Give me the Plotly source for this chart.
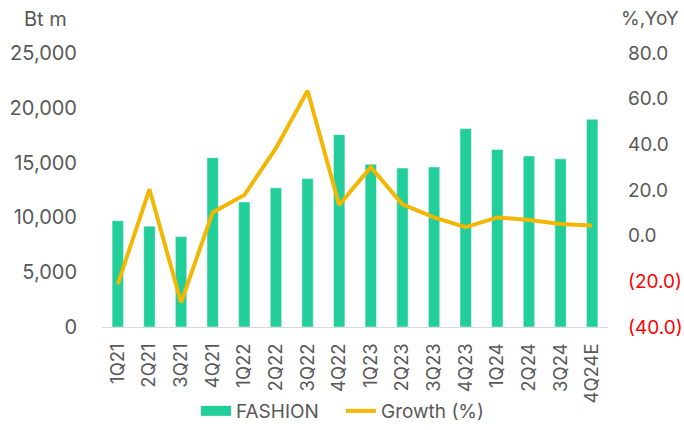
import plotly.graph_objects as go

quarters = ["1Q21", "2Q21", "3Q21", "4Q21", "1Q22", "2Q22", "3Q22", "4Q22",
            "1Q23", "2Q23", "3Q23", "4Q23", "1Q24", "2Q24", "3Q24", "4Q24E"]
fashion = [9700, 9200, 8250, 15450, 11400, 12700, 13550, 17550,
           14850, 14500, 14600, 18100, 16200, 15600, 15350, 18950]
growth = [-21.2, 20.3, -29.3, 10.2, 17.8, 38.3, 63.5, 13.4,
          30.0, 13.7, 8.0, 3.7, 8.0, 6.9, 5.1, 4.5]

left_ticks = [0, 5000, 10000, 15000, 20000, 25000]
right_ticks = [-40, -20, 0, 20, 40, 60, 80]

def fmt_right(v):
    if v < 0:
        return f"<span style='color:#FF0000'>({abs(v):.1f})</span>"
    return f"{v:.1f}"

TEXT = "#595959"
GREEN = "#22CE99"
GOLD = "#F2B705"
FONT = "Inter"

W, H = 684, 430
L, R, T, B = 102, 76, 53, 103
pw, ph = W - L - R, H - T - B
def px(xp): return (xp - L) / pw
def py(yp): return (H - B - yp) / ph

fig = go.Figure()
fig.add_trace(go.Bar(
    x=quarters, y=fashion, name="FASHION", showlegend=False,
    marker=dict(color=GREEN, line=dict(color="rgba(255,255,255,0.45)", width=1)),
    yaxis="y",
))
# legend-only entry so the swatch is a wide rectangle
fig.add_trace(go.Scatter(
    x=[None], y=[None], name="FASHION", mode="lines",
    line=dict(color=GREEN, width=12), yaxis="y", hoverinfo="skip", legend="legend",
))
fig.add_trace(go.Scatter(
    x=quarters, y=growth, name="Growth (%)", mode="lines",
    line=dict(color=GOLD, width=4), legend="legend2",
    yaxis="y2",
))

fig.update_layout(
    width=W, height=H,
    margin=dict(l=L, r=R, t=T, b=B, autoexpand=False),
    paper_bgcolor="white", plot_bgcolor="white",
    font=dict(family=FONT, color=TEXT, size=18),
    bargap=0.64,
    showlegend=True,
    legend=dict(orientation="h", x=px(196), xanchor="left", y=py(411), yanchor="middle",
                font=dict(size=19, color=TEXT), bgcolor="rgba(0,0,0,0)"),
    legend2=dict(orientation="h", x=px(341), xanchor="left", y=py(411), yanchor="middle",
                 font=dict(size=19, color=TEXT), bgcolor="rgba(0,0,0,0)"),
    xaxis=dict(
        type="category", tickangle=-90, showgrid=False, ticks="",
        showline=True, linecolor="#D9D9D9", linewidth=1, automargin=False,
        tickfont=dict(size=18.5, color=TEXT), ticklabelstandoff=8,
    ),
    yaxis=dict(
        range=[0, 25000], tickvals=left_ticks,
        ticktext=[f"{v:,}" for v in left_ticks],
        showgrid=False, zeroline=False, ticks="", automargin=False,
        tickfont=dict(size=20, color=TEXT), ticklabelstandoff=24,
    ),
    yaxis2=dict(
        range=[-40, 80], tickvals=right_ticks,
        ticktext=[fmt_right(v) for v in right_ticks],
        overlaying="y", side="right", automargin=False,
        showgrid=False, zeroline=False, ticks="",
        tickfont=dict(size=19, color=TEXT), ticklabelstandoff=19,
    ),
)
fig.add_annotation(text="Bt m", x=px(45), y=py(19), xref="paper", yref="paper",
                   showarrow=False, xanchor="center", yanchor="middle",
                   font=dict(size=20, color=TEXT))
fig.add_annotation(text="%,YoY", x=px(619), y=py(18), xref="paper", yref="paper",
                   showarrow=False, xanchor="left", yanchor="middle",
                   font=dict(size=19, color=TEXT))

fig.write_html("out.html", config={"displayModeBar": False},
               post_script="document.body.style.margin='0';")
